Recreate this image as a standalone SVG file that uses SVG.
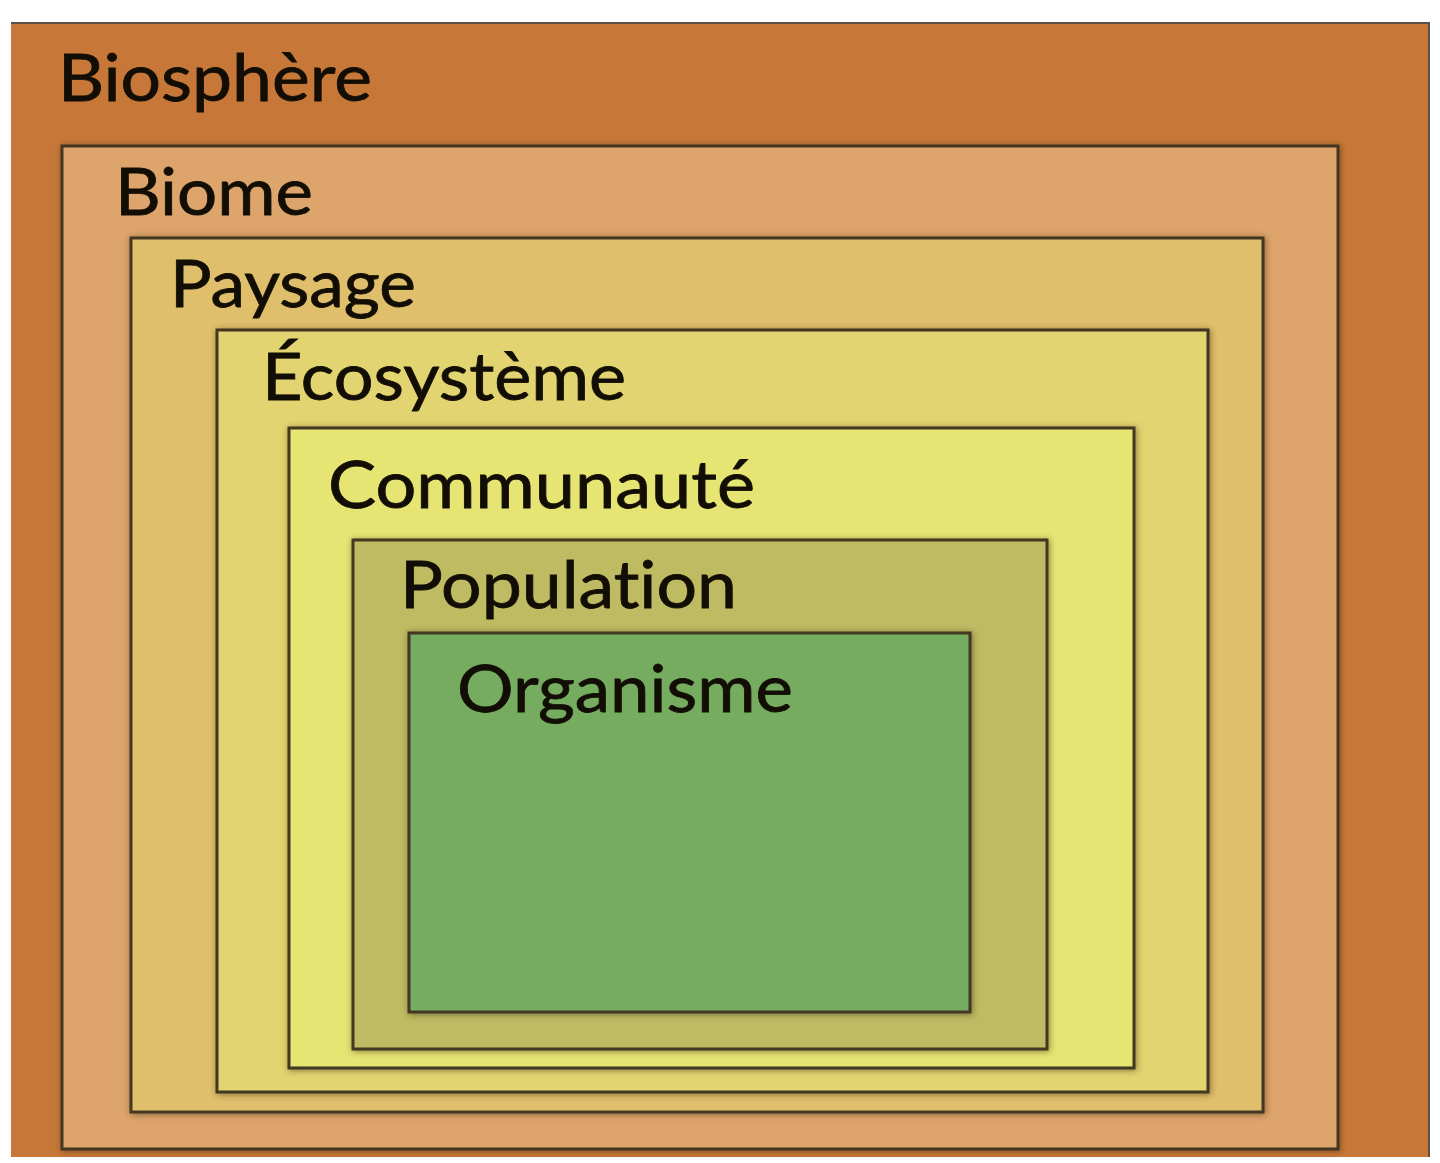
<svg xmlns="http://www.w3.org/2000/svg" width="1440" height="1163" viewBox="0 0 1440 1163">
<defs>
<filter id="sh" x="-5%" y="-5%" width="110%" height="110%">
<feDropShadow dx="1" dy="1" stdDeviation="3" flood-color="#3a2a10" flood-opacity="0.55"/>
</filter>
</defs>
<style>
.box{stroke:#433722;stroke-width:3;filter:url(#sh)}
.lbl{font-family:Lato,"Open Sans","Liberation Sans",sans-serif;font-size:66px;fill:#120e06;stroke:#120e06;stroke-width:0.8;font-variant-ligatures:none;font-feature-settings:"liga" 0,"dlig" 0}
</style>
<rect x="0" y="0" width="1440" height="1163" fill="#ffffff"/>
<g id="biosphere">
<rect x="11" y="23" width="1418" height="1134" fill="#c77838"/>
<path d="M11 23 H1429 V1157" fill="none" stroke="#5a5048" stroke-width="2"/>
<text class="lbl" x="58" y="101" textLength="314" lengthAdjust="spacingAndGlyphs">Biosphère</text>
</g>
<g id="biome">
<rect class="box" x="62" y="146" width="1276" height="1003" fill="#dda46c"/>
<text class="lbl" x="115" y="215" textLength="198" lengthAdjust="spacingAndGlyphs">Biome</text>
</g>
<g id="paysage">
<rect class="box" x="131" y="238" width="1132" height="874" fill="#e0bf6c"/>
<text class="lbl" x="170" y="307" textLength="246" lengthAdjust="spacingAndGlyphs">Paysage</text>
</g>
<g id="ecosysteme">
<rect class="box" x="217" y="330" width="991" height="762" fill="#e2d46f"/>
<text class="lbl" x="262" y="400" textLength="364" lengthAdjust="spacingAndGlyphs">Écosystème</text>
</g>
<g id="communaute">
<rect class="box" x="289" y="428" width="845" height="640" fill="#e6e473"/>
<text class="lbl" x="328" y="508" textLength="427" lengthAdjust="spacingAndGlyphs">Communauté</text>
</g>
<g id="population">
<rect class="box" x="353" y="540" width="694" height="509" fill="#bebb64"/>
<text class="lbl" x="400" y="608" textLength="337" lengthAdjust="spacingAndGlyphs">Population</text>
</g>
<g id="organisme">
<rect class="box" x="409" y="633" width="561" height="379" fill="#75ac60"/>
<text class="lbl" x="457" y="712" textLength="336" lengthAdjust="spacingAndGlyphs">Organisme</text>
</g>
<g id="connectors"></g>
</svg>
